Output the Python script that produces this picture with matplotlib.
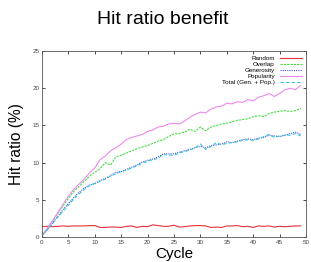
import numpy as np
import matplotlib
matplotlib.use("Agg")
import matplotlib.pyplot as plt

cycles = np.arange(50)

random_hr = [1.4, 1.45, 1.4, 1.45, 1.5, 1.45, 1.5, 1.5, 1.5, 1.55,
             1.55, 1.3, 1.3, 1.35, 1.35, 1.3, 1.45, 1.5, 1.3, 1.45,
             1.4, 1.65, 1.55, 1.45, 1.45, 1.6, 1.35, 1.4, 1.5, 1.55,
             1.55, 1.5, 1.3, 1.35, 1.3, 1.5, 1.5, 1.55, 1.4, 1.45,
             1.3, 1.5, 1.45, 1.5, 1.35, 1.45, 1.4, 1.45, 1.5, 1.5]
overlap = [0.2, 1.1, 2.2, 3.2, 4.2, 5.2, 6.1, 6.8, 7.5, 8.2,
           8.7, 9.2, 10.0, 9.7, 10.8, 11.0, 11.3, 11.6, 11.9, 12.1,
           12.3, 12.6, 12.9, 13.1, 13.5, 13.9, 13.9, 14.1, 14.5, 14.2,
           14.8, 14.3, 14.8, 15.0, 15.2, 15.3, 15.5, 15.7, 15.8, 15.9,
           16.2, 16.3, 16.2, 16.6, 16.8, 16.9, 17.0, 16.9, 17.0, 17.3]
generosity = [0.2, 1.0, 1.9, 2.8, 3.7, 4.5, 5.3, 6.0, 6.6, 7.0,
              7.2, 7.6, 7.9, 8.3, 8.7, 8.8, 9.1, 9.4, 9.7, 10.1,
              10.3, 10.5, 10.8, 11.2, 11.2, 11.2, 11.4, 11.6, 11.8, 12.0,
              12.2, 12.0, 12.3, 12.4, 12.5, 12.8, 12.7, 12.9, 13.1, 13.2,
              13.1, 13.3, 13.4, 13.7, 13.6, 13.5, 13.7, 13.9, 14.1, 13.8]
popularity = [0.2, 1.2, 2.2, 3.3, 4.4, 5.5, 6.4, 7.1, 7.8, 8.6,
              9.3, 10.4, 10.9, 11.6, 12.0, 12.5, 13.1, 13.4, 13.6, 13.8,
              14.2, 14.4, 14.8, 14.9, 15.2, 15.3, 15.2, 15.6, 16.1, 16.5,
              16.8, 16.7, 17.2, 17.5, 17.6, 18.0, 17.9, 18.2, 18.1, 18.5,
              18.3, 18.8, 19.0, 19.3, 18.9, 19.3, 19.8, 20.0, 19.8, 20.4]
total = [0.2, 1.0, 1.8, 2.7, 3.5, 4.3, 5.1, 5.8, 6.4, 6.9,
         7.2, 7.5, 7.8, 8.2, 8.5, 8.8, 9.0, 9.3, 9.6, 9.9,
         10.2, 10.4, 10.6, 11.1, 11.0, 11.0, 11.3, 11.5, 11.7, 12.0,
         12.5, 11.8, 12.2, 12.7, 12.4, 12.6, 12.7, 12.8, 13.0, 13.1,
         13.0, 13.2, 13.5, 13.8, 13.4, 13.6, 13.7, 13.7, 13.9, 13.6]

plt.rcParams['font.family'] = ['Liberation Sans', 'DejaVu Sans']

fig = plt.figure(figsize=(3.11, 2.62), dpi=100)
ax = fig.add_axes([0.135, 0.095, 0.849, 0.71])

ax.plot(cycles, random_hr, color='#e8303a', lw=0.8, label='Random')
ax.plot(cycles, overlap, color='#44dd44', lw=0.8, ls=(0, (2, 1)), label='Overlap')
ax.plot(cycles, generosity, color='#5050d8', lw=0.8, ls=(0, (1, 1)), label='Generosity')
ax.plot(cycles, popularity, color='#ee88ee', lw=0.8, label='Popularity')
ax.plot(cycles, total, color='#30c8d8', lw=0.8, ls=(0, (3, 2)), label='Total (Gen. + Pop.)')

ax.set_xlim(0, 50)
ax.set_ylim(0, 25)
ax.set_xticks(range(0, 51, 5))
ax.set_yticks(range(0, 26, 5))
ax.tick_params(direction='in', length=2, width=0.5, labelsize=4.5,
               labelcolor='#444444', top=True, right=True, pad=2)
for s in ax.spines.values():
    s.set_linewidth(0.6)
    s.set_color('#555555')

ax.legend(loc='upper right', fontsize=4.5, frameon=False, markerfirst=False,
          handlelength=3.5, labelspacing=0.1, borderaxespad=0.3)

ax.set_xlabel('Cycle', fontsize=11)
ax.xaxis.set_label_coords(0.5, -0.055)
ax.set_ylabel('Hit ratio (%)', fontsize=11.2)
ax.yaxis.set_label_coords(-0.068, 0.5)
fig.text(0.523, 0.925, 'Hit ratio benefit', ha='center', va='center', fontsize=14)

fig.savefig('out.png', dpi=100)
